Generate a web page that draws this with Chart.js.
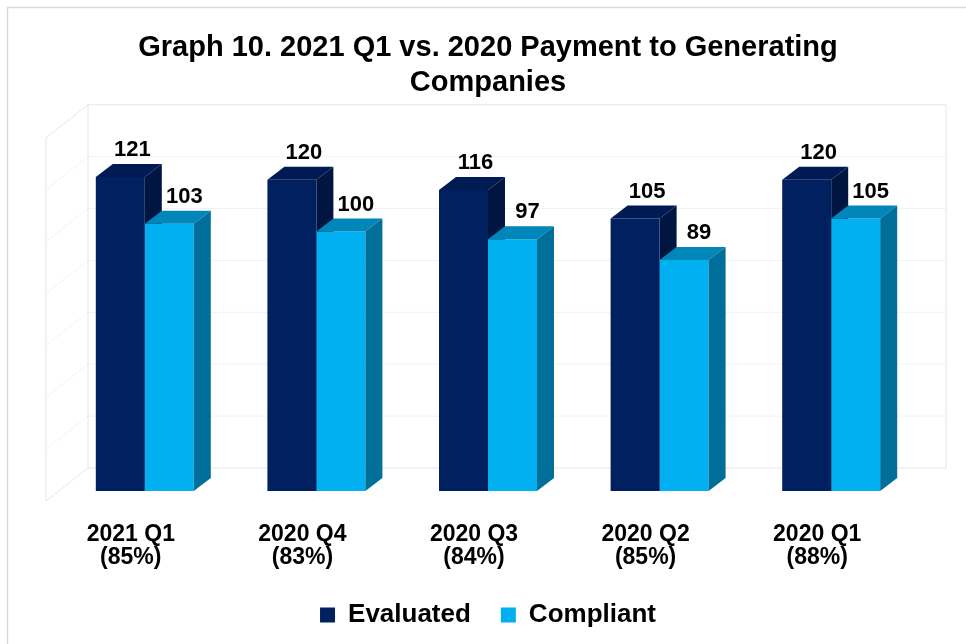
<!DOCTYPE html>
<html>
<head>
<meta charset="utf-8">
<script src="https://cdn.jsdelivr.net/npm/chart.js@4.4.0/dist/chart.umd.min.js"></script>
<style>
  html, body { margin: 0; padding: 0; background: #fff; }
  #wrap { width: 966px; height: 644px; }
</style>
</head>
<body>
<div id="wrap"><canvas id="chart"></canvas></div>
<script>
const categories = [["2021 Q1", "(85%)"], ["2020 Q4", "(83%)"], ["2020 Q3", "(84%)"], ["2020 Q2", "(85%)"], ["2020 Q1", "(88%)"]];
const evaluated = [121, 120, 116, 105, 120];
const compliant = [103, 100, 97, 89, 105];
const titleLines = ["Graph 10. 2021 Q1 vs. 2020 Payment to Generating", "Companies"];

const FONT = "'Liberation Sans', Arial, sans-serif";
// depth of the bars and of the walls (in px)
const BAR_DX = 17, BAR_DY = 13;
const FRONT = { dx: -13, dy: 10 }, BACK = { dx: 29, dy: -23 };

const faces = [
  { top: "rgb(0,27,84)", side: "rgb(0,22,64)", labelDx: 12 },
  { top: "rgb(0,134,184)", side: "rgb(0,111,153)", labelDx: 15 }
];

function poly(ctx, pts, fill) {
  ctx.beginPath();
  ctx.moveTo(pts[0][0], pts[0][1]);
  for (let i = 1; i < pts.length; i++) ctx.lineTo(pts[i][0], pts[i][1]);
  ctx.closePath();
  ctx.fillStyle = fill;
  ctx.fill();
}

function drawDepth(chart, di) {
  const ctx = chart.ctx;
  const meta = chart.getDatasetMeta(di);
  meta.data.forEach(bar => {
    const l = bar.x - bar.width / 2, r = bar.x + bar.width / 2;
    const t = bar.y, b = bar.base;
    poly(ctx, [[l, t], [l + BAR_DX, t - BAR_DY], [r + BAR_DX, t - BAR_DY], [r, t]], faces[di].top);
    poly(ctx, [[r, t], [r + BAR_DX, t - BAR_DY], [r + BAR_DX, b - BAR_DY], [r, b]], faces[di].side);
  });
}

const walls = {
  id: "walls",
  beforeDatasetsDraw(chart) {
    const ctx = chart.ctx;
    const a = chart.chartArea;
    const y = chart.scales.y;
    ctx.save();
    // outer frame
    ctx.strokeStyle = "#d9d9d9";
    ctx.lineWidth = 1.5;
    ctx.strokeRect(7.5, 7.5, 1100, 1100);
    // gridlines on back wall and side wall
    ctx.lineWidth = 1;
    y.ticks.forEach(tk => {
      const py = y.getPixelForValue(tk.value);
      ctx.strokeStyle = (tk.value === 0 || tk.value === y.max) ? "#e6e6e6" : "#f2f2f2";
      ctx.beginPath();
      ctx.moveTo(a.left + FRONT.dx, py + FRONT.dy);
      ctx.lineTo(a.left + BACK.dx, py + BACK.dy);
      ctx.lineTo(a.right + BACK.dx, py + BACK.dy);
      ctx.stroke();
    });
    ctx.strokeStyle = "#e6e6e6";
    ctx.beginPath();
    ctx.moveTo(a.left + FRONT.dx, a.top + FRONT.dy);
    ctx.lineTo(a.left + FRONT.dx, a.bottom + FRONT.dy);
    ctx.moveTo(a.left + BACK.dx, a.top + BACK.dy);
    ctx.lineTo(a.left + BACK.dx, a.bottom + BACK.dy);
    ctx.moveTo(a.right + BACK.dx, a.top + BACK.dy);
    ctx.lineTo(a.right + BACK.dx, a.bottom + BACK.dy);
    ctx.stroke();
    drawDepth(chart, 0);
    ctx.restore();
  },
  afterDatasetsDraw(chart) {
    const ctx = chart.ctx;
    ctx.save();
    drawDepth(chart, 1);
    // value labels
    ctx.font = "bold 22px " + FONT;
    ctx.fillStyle = "#000";
    ctx.textAlign = "center";
    ctx.textBaseline = "alphabetic";
    chart.data.datasets.forEach((ds, di) => {
      chart.getDatasetMeta(di).data.forEach((bar, i) => {
        ctx.fillText(String(ds.data[i]), bar.x + faces[di].labelDx, bar.y - 21);
      });
    });
    ctx.restore();
  }
};

new Chart(document.getElementById("chart"), {
  type: "bar",
  data: {
    labels: categories,
    datasets: [
      { label: "Evaluated", data: evaluated, backgroundColor: "#002060", borderWidth: 0 },
      { label: "Compliant", data: compliant, backgroundColor: "#00B0F0", borderWidth: 0 }
    ]
  },
  options: {
    responsive: true,
    maintainAspectRatio: false,
    animation: false,
    categoryPercentage: 0.571,
    barPercentage: 1,
    layout: { padding: { top: 10, left: 59, right: 49, bottom: 6 } },
    scales: {
      x: {
        grid: { display: false },
        border: { display: false },
        ticks: {
          color: "#000",
          padding: 24,
          labelOffset: -14,
          font: { family: FONT, size: 23, weight: "bold", lineHeight: 1.0 }
        },
        afterFit(scale) { scale.height = 81; }
      },
      y: { display: false, min: 0, max: 140, ticks: { stepSize: 20 } }
    },
    plugins: {
      title: {
        display: true,
        text: titleLines,
        color: "#000",
        padding: { top: 20, bottom: 27 },
        font: { family: FONT, size: 29, weight: "bold", lineHeight: 1.22 }
      },
      legend: {
        position: "bottom",
        labels: {
          color: "#000",
          boxWidth: 15,
          boxHeight: 15,
          padding: 30,
          font: { family: FONT, size: 26, weight: "bold" }
        }
      },
      tooltip: { enabled: false }
    }
  },
  plugins: [walls]
});
</script>
</body>
</html>
